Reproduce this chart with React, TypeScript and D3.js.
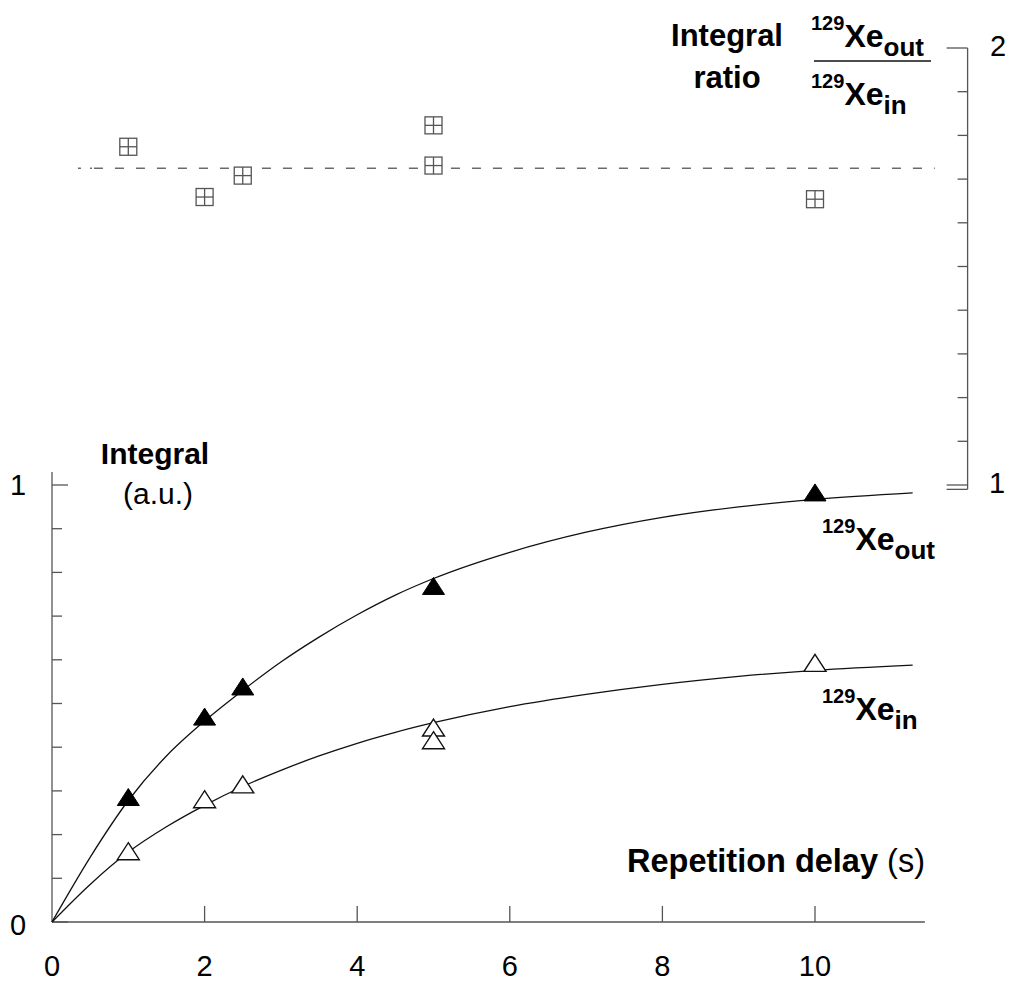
import { useEffect, useRef } from "react";
import * as d3 from "d3";

// measured points (repetition delay in s)
const outDelays = [1, 2, 2.5, 5, 10];
const outValues = [0.286, 0.47, 0.539, 0.769, 0.983];
const inDelays = [1, 2, 2.5, 5, 5, 10];
const inValues = [0.162, 0.281, 0.315, 0.445, 0.416, 0.593];
const ratioDelays = [1, 2, 2.5, 5, 5, 10];
const ratioValues = [1.774, 1.659, 1.708, 1.823, 1.731, 1.654];
const ratioMean = 1.725;
const ratioLineRange = [0.34, 11.57];

// fitted curves
const curveDelays = [0, 0.5, 1, 1.5, 2, 2.5, 3, 3.5, 4, 4.5, 5, 6, 7, 8, 9, 10, 11.28];
const outCurve = [0, 0.148, 0.278, 0.38, 0.46, 0.53, 0.595, 0.652, 0.703, 0.748, 0.786, 0.846, 0.892, 0.926, 0.95, 0.967, 0.982];
const inCurve = [0, 0.086, 0.16, 0.218, 0.267, 0.31, 0.347, 0.38, 0.409, 0.434, 0.456, 0.493, 0.521, 0.544, 0.562, 0.576, 0.588];

const xTicks = [0, 2, 4, 6, 8, 10];
const yTicks = d3.range(0, 11).map((i) => i / 10);
const rTicks = d3.range(10, 21).map((i) => i / 10);

const FONT = "'Liberation Sans', Arial, Helvetica, sans-serif";
const AXIS = "#555";

export default function App() {
  const ref = useRef<SVGSVGElement>(null);

  useEffect(() => {
    const svg = d3.select(ref.current);
    svg.selectAll("*").remove();

    const x = d3.scaleLinear().domain([0, 10]).range([52, 815]);
    const y = d3.scaleLinear().domain([0, 1]).range([922, 485]);
    const yr = d3.scaleLinear().domain([1, 2]).range([485, 48]);

    // left axis
    svg.append("line").attr("x1", x(0)).attr("x2", x(0)).attr("y1", y(0)).attr("y2", y(1.03))
      .attr("stroke", AXIS).attr("stroke-width", 1.3);
    svg.selectAll(".ytick").data(yTicks).enter().append("line")
      .attr("x1", x(0)).attr("x2", (d) => x(0) + (d === 0 || d === 1 ? 16 : 10))
      .attr("y1", (d) => y(d)).attr("y2", (d) => y(d))
      .attr("stroke", AXIS).attr("stroke-width", 1.3);

    // bottom axis
    svg.append("line").attr("x1", x(0)).attr("x2", x(11.44)).attr("y1", y(0)).attr("y2", y(0))
      .attr("stroke", AXIS).attr("stroke-width", 1.3);
    svg.selectAll(".xtick").data(xTicks.slice(1)).enter().append("line")
      .attr("x1", (d) => x(d)).attr("x2", (d) => x(d))
      .attr("y1", y(0)).attr("y2", y(0) - 16)
      .attr("stroke", AXIS).attr("stroke-width", 1.3);
    svg.selectAll(".xlab").data(xTicks).enter().append("text")
      .attr("x", (d) => x(d)).attr("y", 976)
      .attr("text-anchor", "middle")
      .style("font-family", FONT).style("font-size", "29px")
      .text((d) => d);

    // left tick labels
    svg.append("text").attr("x", 18).attr("y", y(1) + 10).attr("text-anchor", "middle")
      .style("font-family", FONT).style("font-size", "29px").text("1");
    svg.append("text").attr("x", 18).attr("y", y(0) + 13).attr("text-anchor", "middle")
      .style("font-family", FONT).style("font-size", "29px").text("0");

    // right (ratio) axis
    const xr = x(12);
    svg.append("line").attr("x1", xr).attr("x2", xr).attr("y1", yr(2)).attr("y2", yr(0.99))
      .attr("stroke", AXIS).attr("stroke-width", 1.3);
    svg.selectAll(".rtick").data([...rTicks, 0.99]).enter().append("line")
      .attr("x1", xr).attr("x2", (d) => xr - (d === 2 || d <= 1 ? 21 : 10))
      .attr("y1", (d) => yr(d)).attr("y2", (d) => yr(d))
      .attr("stroke", AXIS).attr("stroke-width", 1.3);
    svg.append("text").attr("x", 998).attr("y", yr(2) + 8).attr("text-anchor", "middle")
      .style("font-family", FONT).style("font-size", "29px").text("2");
    svg.append("text").attr("x", 997).attr("y", yr(1) + 8).attr("text-anchor", "middle")
      .style("font-family", FONT).style("font-size", "29px").text("1");

    // ratio mean line (dash-dot start, then regular dashes)
    const ym = yr(ratioMean);
    const x0 = x(ratioLineRange[0]);
    svg.append("line").attr("x1", x0).attr("x2", x0 + 3).attr("y1", ym).attr("y2", ym)
      .attr("stroke", "#222").attr("stroke-width", 1);
    svg.append("line").attr("x1", x0 + 12).attr("x2", x0 + 14).attr("y1", ym).attr("y2", ym)
      .attr("stroke", "#222").attr("stroke-width", 1);
    svg.append("line")
      .attr("x1", x0 + 16).attr("x2", x(ratioLineRange[1]))
      .attr("y1", ym).attr("y2", ym)
      .attr("stroke", "#222").attr("stroke-width", 1)
      .attr("stroke-dasharray", "9,12");

    // ratio markers
    const sq = 17;
    const g = svg.append("g");
    ratioValues.forEach((v, i) => {
      const cx = x(ratioDelays[i]);
      const cy = yr(v);
      g.append("rect").attr("x", cx - sq / 2).attr("y", cy - sq / 2)
        .attr("width", sq).attr("height", sq)
        .attr("fill", "white").attr("stroke", "#555").attr("stroke-width", 1.3);
      g.append("line").attr("x1", cx).attr("x2", cx).attr("y1", cy - sq / 2).attr("y2", cy + sq / 2)
        .attr("stroke", "#555").attr("stroke-width", 1.3);
      g.append("line").attr("x1", cx - sq / 2).attr("x2", cx + sq / 2).attr("y1", cy).attr("y2", cy)
        .attr("stroke", "#555").attr("stroke-width", 1.3);
    });

    // fitted curves
    const line = d3.line<number>()
      .x((_, i) => x(curveDelays[i]))
      .y((d) => y(d))
      .curve(d3.curveMonotoneX);
    svg.append("path").datum(outCurve).attr("d", line)
      .attr("fill", "none").attr("stroke", "#111").attr("stroke-width", 1.3);
    svg.append("path").datum(inCurve).attr("d", line)
      .attr("fill", "none").attr("stroke", "#111").attr("stroke-width", 1.3);

    // triangles
    const tw = 22, th = 17;
    const tri = (cx: number, cy: number) =>
      `M${cx},${cy - th / 2}L${cx + tw / 2},${cy + th / 2}L${cx - tw / 2},${cy + th / 2}Z`;
    svg.selectAll(".tin").data(inValues).enter().append("path")
      .attr("d", (d, i) => tri(x(inDelays[i]), y(d)))
      .attr("fill", "white").attr("stroke", "#111").attr("stroke-width", 1.4);
    svg.selectAll(".tout").data(outValues).enter().append("path")
      .attr("d", (d, i) => tri(x(outDelays[i]), y(d)))
      .attr("fill", "black").attr("stroke", "black").attr("stroke-width", 1);

    // labels
    const bold = (sel: any) => sel.style("font-family", FONT).style("font-weight", "bold");
    bold(svg.append("text").attr("x", 155).attr("y", 464).attr("text-anchor", "middle")
      .style("font-size", "30px").text("Integral"));
    svg.append("text").attr("x", 158).attr("y", 504).attr("text-anchor", "middle")
      .style("font-family", FONT).style("font-size", "30px").text("(a.u.)");

    bold(svg.append("text").attr("x", 727).attr("y", 46).attr("text-anchor", "middle")
      .style("font-size", "31px").text("Integral"));
    bold(svg.append("text").attr("x", 727).attr("y", 88).attr("text-anchor", "middle")
      .style("font-size", "31px").text("ratio"));

    const rep = svg.append("text").attr("x", 627).attr("y", 872)
      .style("font-family", FONT).style("font-size", "32.5px");
    rep.append("tspan").style("font-weight", "bold").text("Repetition delay");
    rep.append("tspan").text(" (s)");

    const xe = (lx: number, base: number, sub: string) => {
      const t = svg.append("text").attr("x", lx).attr("y", base - 17)
        .style("font-family", FONT).style("font-weight", "bold");
      t.append("tspan").style("font-size", "20px").text("129");
      t.append("tspan").attr("y", base).style("font-size", "32px").text("Xe");
      t.append("tspan").attr("y", base + 9).style("font-size", "26px").text(sub);
    };
    xe(822, 550, "out");
    xe(822, 720, "in");
    xe(811, 47, "out");
    xe(811, 105, "in");
    svg.append("line").attr("x1", 814).attr("x2", 931).attr("y1", 61).attr("y2", 61)
      .attr("stroke", "#111").attr("stroke-width", 1.3);
  }, []);

  return (
    <svg
      ref={ref}
      width={1013}
      height={983}
      style={{ position: "absolute", left: 0, top: 0, background: "white" }}
    />
  );
}
